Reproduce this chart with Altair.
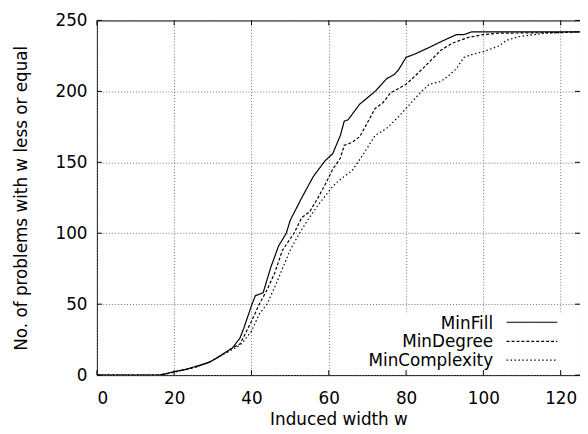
import altair as alt
import pandas as pd

series_names = ["MinFill", "MinDegree", "MinComplexity"]

minfill_w = [0, 16, 18, 20, 23, 26, 29, 31, 35, 37, 38, 40, 41, 43, 45, 47, 49, 50, 53, 56, 59, 61, 63, 64, 65, 68, 72, 75, 77, 78, 80, 82, 86, 89, 93, 95, 97, 125]
minfill_n = [0, 0, 1, 2.5, 4, 6.5, 9, 12, 19, 26, 33, 49, 56, 58, 76, 91, 100, 109, 125, 140, 151, 156, 169, 179, 180, 191, 200, 209, 212, 215, 224, 226, 231, 235, 240, 240, 242, 242]

mindegree_w = [0, 16, 18, 20, 23, 26, 29, 31, 35, 37, 38, 40, 42, 44, 46, 48, 51, 53, 55, 57, 59, 61, 63, 64, 66, 68, 72, 74, 76, 80, 82, 85, 89, 92, 96, 100, 104, 120, 125]
mindegree_n = [0, 0, 1, 2.3, 4, 6, 9, 12, 19, 22, 27, 38, 50, 60, 72, 88, 100, 111, 115, 124, 134, 145, 153, 162, 164, 168, 188, 192, 199, 205, 210, 218, 229, 234, 238, 240, 241, 241.5, 242]

mincomplexity_w = [0, 16, 18, 20, 23, 26, 29, 31, 35, 37, 38, 40, 42, 44, 46, 48, 50, 52, 54, 57, 59, 61, 63, 66, 69, 72, 75, 78, 80, 84, 86, 89, 91, 93, 95, 97, 100, 104, 106, 109, 113, 116, 121, 125]
mincomplexity_n = [0, 0, 1, 2, 4, 6, 9, 12, 18, 21, 24, 31, 43, 50, 62, 75, 88, 98, 107, 119, 126, 133, 138, 144, 156, 169, 174, 182, 188, 200, 205, 207, 211, 216, 224, 226, 228, 232, 236, 238.5, 240, 241, 241.5, 242]

x_ticks = [0, 20, 40, 60, 80, 100, 120]
y_ticks = [0, 50, 100, 150, 200, 250]

rows = []
for name, ws, ns in [("MinFill", minfill_w, minfill_n),
                     ("MinDegree", mindegree_w, mindegree_n),
                     ("MinComplexity", mincomplexity_w, mincomplexity_n)]:
    for i, (w, n) in enumerate(zip(ws, ns)):
        rows.append({"series": name, "w": w, "n": n, "order": i})
df = pd.DataFrame(rows)

W, H = 489, 359
FONT = "DejaVu Sans"
FS = 17
dash_range = [[1, 0], [3, 2], [1.5, 2.5]]
dash_scale = alt.Scale(domain=series_names, range=dash_range)

xscale = alt.Scale(domain=[0, 125], nice=False, zero=False)
yscale = alt.Scale(domain=[0, 250], nice=False)

lines = alt.Chart(df).mark_line(color="black", strokeWidth=1.2, clip=True).encode(
    x=alt.X("w:Q", scale=xscale,
            axis=alt.Axis(values=x_ticks, title="Induced width w", grid=True,
                          titleX=W / 2, titleY=50, titleBaseline="alphabetic",
                          labelPadding=16)),
    y=alt.Y("n:Q", scale=yscale,
            axis=alt.Axis(values=y_ticks, title="No. of problems with w less or equal", grid=True,
                          titleX=-71.6, titleY=H / 2, titleAngle=-90, titleBaseline="alphabetic",
                          titleAlign="center", labelPadding=10)),
    strokeDash=alt.StrokeDash("series:N", scale=dash_scale, legend=None),
    detail="series:N",
    order="order:Q",
)

# legend box (white, covering grid)
box = alt.Chart(pd.DataFrame({"a": [0]})).mark_rect(color="white").encode(
    x=alt.value(272), x2=alt.value(488), y=alt.value(295.5), y2=alt.value(358)
)

text_baselines = [312.2, 330.8, 349.8]
sample_ys = [305.5, 324.8, 343.8]
legend_layers = []
for name, tb, sy in zip(series_names, text_baselines, sample_ys):
    one = pd.DataFrame({"series": [name]})
    legend_layers.append(
        alt.Chart(one).mark_text(align="right", baseline="alphabetic", fontSize=FS, font=FONT, color="black").encode(
            x=alt.value(401), y=alt.value(tb), text="series:N")
    )
    legend_layers.append(
        alt.Chart(one).mark_rule(color="black", strokeWidth=1.2).encode(
            x=alt.value(414.7), x2=alt.value(466), y=alt.value(sy),
            strokeDash=alt.StrokeDash("series:N", scale=dash_scale, legend=None))
    )

xt = pd.DataFrame({"v": x_ticks})
yt = pd.DataFrame({"v": y_ticks})
tick_bottom = alt.Chart(xt).mark_rule(color="black").encode(
    x=alt.X("v:Q", scale=xscale), y=alt.value(H), y2=alt.value(H - 5))
tick_top = alt.Chart(xt).mark_rule(color="black").encode(
    x=alt.X("v:Q", scale=xscale), y=alt.value(0), y2=alt.value(5))
tick_left = alt.Chart(yt).mark_rule(color="black").encode(
    y=alt.Y("v:Q", scale=yscale), x=alt.value(0), x2=alt.value(5))
tick_right = alt.Chart(yt).mark_rule(color="black").encode(
    y=alt.Y("v:Q", scale=yscale), x=alt.value(W), x2=alt.value(W - 5))

chart = alt.layer(lines, box, tick_bottom, tick_top, tick_left, tick_right, *legend_layers).properties(
    width=W, height=H,
    autosize=alt.AutoSizeParams(type="none"),
    padding={"left": 90, "top": 10, "right": 0, "bottom": 56},
).configure_view(
    stroke="black", strokeWidth=1
).configure_axis(
    labelFont=FONT, titleFont=FONT, labelFontSize=FS, titleFontSize=FS,
    labelColor="black", titleColor="black", titleFontWeight="normal",
    gridColor="#707070", gridDash=[1, 2], gridWidth=1, gridOpacity=1,
    tickSize=0, domain=False, ticks=False,
)

chart.save("out.html", embed_options={"renderer": "svg", "actions": False})
